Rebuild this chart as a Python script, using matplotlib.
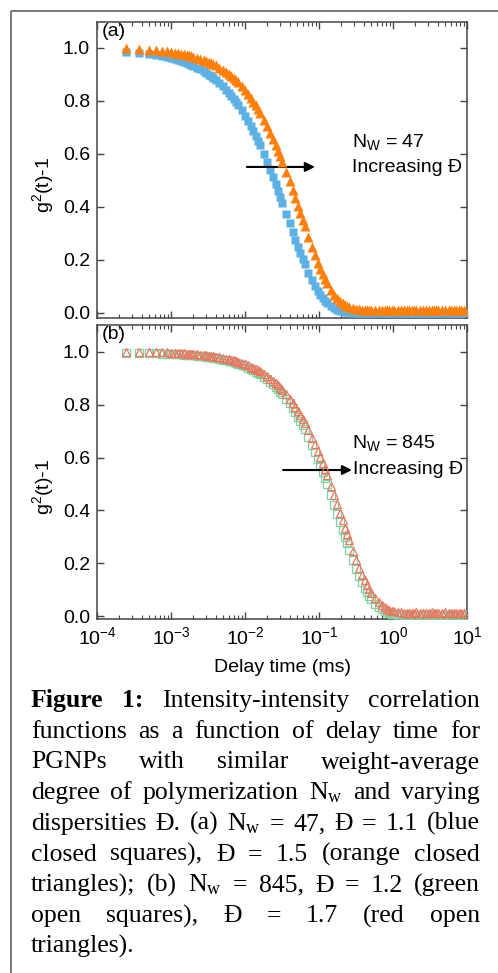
import matplotlib
matplotlib.use("Agg")
import matplotlib.pyplot as plt
from matplotlib.lines import Line2D
from matplotlib.ticker import LogLocator, NullFormatter, FixedLocator, FormatStrFormatter

plt.rcParams['font.family'] = ['Liberation Sans', 'DejaVu Sans']
plt.rcParams['mathtext.default'] = 'regular'

W, H = 498, 973

# delay time grid of the correlator (ms), 8 channels per octave
delay_ms = [2.5e-4, 3.75e-4, 5.0e-4, 6.25e-4, 7.5e-4, 8.75e-4,
            1.0e-3, 1.125e-3, 1.25e-3, 1.375e-3, 1.5e-3, 1.625e-3, 1.75e-3, 1.875e-3,
            2.0e-3, 2.25e-3, 2.5e-3, 2.75e-3, 3.0e-3, 3.25e-3, 3.5e-3, 3.75e-3,
            4.0e-3, 4.5e-3, 5.0e-3, 5.5e-3, 6.0e-3, 6.5e-3, 7.0e-3, 7.5e-3,
            0.008, 0.009, 0.010, 0.011, 0.012, 0.013, 0.014, 0.015,
            0.016, 0.018, 0.020, 0.022, 0.024, 0.026, 0.028, 0.030,
            0.032, 0.036, 0.040, 0.044, 0.048, 0.052, 0.056, 0.060,
            0.064, 0.072, 0.080, 0.088, 0.096, 0.104, 0.112, 0.120,
            0.128, 0.144, 0.160, 0.176, 0.192, 0.208, 0.224, 0.240,
            0.256, 0.288, 0.320, 0.352, 0.384, 0.416, 0.448, 0.480,
            0.512, 0.576, 0.640, 0.704, 0.768, 0.832, 0.896, 0.960,
            1.024, 1.152, 1.280, 1.408, 1.536, 1.664, 1.792, 1.920,
            2.048, 2.304, 2.560, 2.816, 3.072, 3.328, 3.584, 3.840,
            4.096, 4.608, 5.120, 5.632, 6.144, 6.656, 7.168, 7.680,
            8.192, 9.216]

# (a) Nw = 47
blue_d11 = [.984, .980, .977, .973, .969, .965,
            .961, .958, .954, .950, .947, .943, .940, .936,
            .933, .926, .919, .912, .906, .899, .893, .886,
            .880, .867, .855, .843, .831, .820, .808, .797,
            .786, .765, .744, .724, .705, .686, .667, .650,
            .633, .600, .569, .540, .512, .486, .461, .437,
            .416, .375, .338, .305, .276, .249, .226, .204,
            .185, .151, .124, .102, .084, .069, .057, .047,
            .038, .026, .018, .012, .008, .006, .004, .003,
            .002, .001, .001, .000, .000, .000, -.001, .000,
            .001, .000, .000, -.001, .000, .001, .000, .000,
            .000, .001, .000, .000, -.001, .000, .001, .000,
            .000, .000, .001, .000, .000, -.001, .000, .001,
            .000, .000, .001, .000, .000, .000, -.001, .000,
            .000, .001]
orange_d15 = [.998, .995, .993, .991, .989, .987,
              .984, .982, .980, .978, .976, .974, .972, .969,
              .967, .963, .959, .955, .950, .946, .942, .938,
              .934, .926, .917, .909, .901, .894, .886, .878,
              .870, .855, .840, .825, .811, .797, .783, .769,
              .756, .730, .705, .680, .657, .634, .612, .591,
              .571, .533, .497, .463, .432, .403, .376, .351,
              .328, .286, .249, .218, .190, .167, .146, .128,
              .113, .088, .069, .055, .044, .036, .030, .026,
              .022, .018, .015, .014, .013, .013, .012, .012,
              .013, .012, .011, .012, .013, .012, .011, .012,
              .012, .013, .012, .011, .012, .013, .012, .012,
              .011, .012, .013, .012, .012, .011, .013, .012,
              .012, .011, .012, .013, .012, .012, .011, .012,
              .013, .012]

# (b) Nw = 845
green_d12 = [.997, .996, .995, .995, .994, .993,
             .993, .992, .991, .991, .990, .989, .989, .988,
             .987, .986, .985, .983, .982, .981, .979, .978,
             .977, .974, .971, .969, .966, .964, .961, .958,
             .956, .951, .946, .941, .935, .930, .925, .920,
             .916, .906, .896, .886, .877, .868, .858, .849,
             .840, .822, .805, .787, .771, .754, .738, .722,
             .707, .677, .649, .621, .595, .570, .546, .523,
             .501, .460, .422, .387, .355, .326, .299, .275,
             .252, .213, .179, .151, .128, .108, .091, .077,
             .065, .047, .034, .025, .019, .014, .011, .009,
             .007, .005, .004, .003, .003, .002, .003, .003,
             .003, .002, .003, .003, .002, .003, .003, .002,
             .003, .003, .002, .003, .003, .002, .003, .003,
             .002, .003]
red_d17 = [1.001, 1.000, .999, .999, .998, .998,
           .997, .996, .996, .995, .995, .994, .993, .993,
           .992, .991, .990, .988, .987, .986, .985, .984,
           .982, .980, .978, .975, .973, .970, .968, .966,
           .963, .958, .954, .949, .944, .940, .935, .930,
           .926, .917, .908, .899, .890, .881, .873, .864,
           .856, .839, .823, .807, .791, .775, .760, .745,
           .731, .703, .676, .650, .625, .601, .578, .555,
           .534, .494, .457, .423, .391, .362, .335, .310,
           .287, .247, .212, .182, .157, .136, .117, .102,
           .089, .068, .052, .041, .033, .027, .023, .020,
           .018, .015, .014, .013, .012, .013, .011, .012,
           .014, .012, .011, .013, .012, .014, .012, .011,
           .013, .012, .014, .012, .013, .011, .012, .013,
           .012, .013]

y_ticks = [0.0, 0.2, 0.4, 0.6, 0.8, 1.0]

fig = plt.figure(figsize=(W / 100, H / 100), dpi=100)
fig.patch.set_facecolor('white')

# outer frame (left and top edges only are visible)
fc = '#555555'
fig.add_artist(Line2D([11 / W, 11 / W], [-0.01, 1 - 11 / H], color=fc, lw=1.1,
                      transform=fig.transFigure, solid_capstyle='butt'))
fig.add_artist(Line2D([11 / W, 1.01], [1 - 11 / H, 1 - 11 / H], color=fc, lw=1.1,
                      transform=fig.transFigure, solid_capstyle='butt'))


def px_axes(left, top, right, bottom):
    return fig.add_axes([left / W, 1 - bottom / H, (right - left) / W, (bottom - top) / H])


ax_a = px_axes(97, 22, 467, 318)
ax_b = px_axes(97, 325, 467, 619)

ax_a.plot(delay_ms, blue_d11, 's', ms=5.2, color='#5DB0E3', mec='none', zorder=3)
ax_a.plot(delay_ms, orange_d15, '^', ms=6.6, color='#FF7F0A', mec='none', zorder=4)

ax_b.plot(delay_ms, green_d12, 's', ms=5.4, mfc='none', mec='#7DD3A0', mew=0.9, zorder=3)
ax_b.plot(delay_ms, red_d17, '^', ms=6.4, mfc='none', mec='#F07560', mew=0.9, zorder=4)

sc = '#444444'
for ax in (ax_a, ax_b):
    ax.set_xscale('log')
    ax.set_xlim(1e-4, 1e1)
    ax.xaxis.set_major_locator(LogLocator(base=10, numticks=10))
    ax.xaxis.set_minor_locator(LogLocator(base=10, subs=range(2, 10), numticks=10))
    ax.xaxis.set_minor_formatter(NullFormatter())
    ax.yaxis.set_major_locator(FixedLocator(y_ticks))
    ax.yaxis.set_major_formatter(FormatStrFormatter('%.1f'))
    ax.tick_params(which='both', direction='in', top=True, right=True, color=sc,
                   labelsize=14, pad=5)
    ax.tick_params(which='major', length=5, width=1.0)
    ax.tick_params(which='minor', length=3, width=0.8)
    for s in ax.spines.values():
        s.set_color(sc)
        s.set_linewidth(1.1)
    ax.set_ylabel('g$^2$(t)-1', fontsize=14)
    ax.yaxis.set_label_coords(-0.112, 0.45)

ax_a.set_ylim(-0.019, 1.098)
ax_b.set_ylim(-0.011, 1.102)
ax_a.tick_params(labelbottom=False)

ax_b.set_xlabel('Delay time (ms)', fontsize=14)
ax_b.xaxis.set_label_coords(0.5, -0.135)

ax_a.text(0.012, 0.995, '(a)', transform=ax_a.transAxes, fontsize=14, va='top', ha='left')
ax_b.text(0.012, 0.995, '(b)', transform=ax_b.transAxes, fontsize=14, va='top', ha='left')

arrow = dict(arrowstyle='-|>', color='black', lw=1.5, mutation_scale=14, shrinkA=0, shrinkB=0)
ax_a.annotate('', xy=(0.088, 0.551), xytext=(0.0106, 0.551), arrowprops=arrow)
ax_b.annotate('', xy=(0.279, 0.553), xytext=(0.0327, 0.553), arrowprops=arrow)

ax_a.text(0.689, 0.595, 'N$_W$ = 47', transform=ax_a.transAxes, fontsize=14, va='center')
ax_a.text(0.689, 0.51, 'Increasing Đ', transform=ax_a.transAxes, fontsize=14, va='center')
ax_b.text(0.689, 0.599, 'N$_W$ = 845', transform=ax_b.transAxes, fontsize=14, va='center')
ax_b.text(0.692, 0.507, 'Increasing Đ', transform=ax_b.transAxes, fontsize=14, va='center')

# caption, justified by hand
caption = [
    "Figure 1: Intensity-intensity correlation",
    "functions as a function of delay time for",
    "PGNPs with similar weight-average",
    "degree of polymerization N$_w$ and varying",
    "dispersities Đ. (a) N$_w$ = 47, Đ = 1.1 (blue",
    "closed squares), Đ = 1.5 (orange closed",
    "triangles); (b) N$_w$ = 845, Đ = 1.2 (green",
    "open squares), Đ = 1.7 (red open",
    "triangles).",
]
cap_left, cap_right = 31, 480
base0, step = 707, 30.75
renderer = fig.canvas.get_renderer()
for i, line in enumerate(caption):
    words = line.split(' ')
    y = 1 - (base0 + i * step) / H
    texts = []
    for j, w in enumerate(words):
        bold = (i == 0 and j < 2)
        t = fig.text(0, y, w, fontsize=18.5, family=['Liberation Serif', 'DejaVu Serif'],
                     fontweight='bold' if bold else 'normal', va='baseline', ha='left')
        texts.append(t)
    widths = [t.get_window_extent(renderer).width for t in texts]
    if i == len(caption) - 1:
        sp = texts[0].get_window_extent(renderer).height * 0.25
    else:
        sp = (cap_right - cap_left - sum(widths)) / (len(words) - 1)
    x = cap_left
    for t, wd in zip(texts, widths):
        t.set_x(x / W)
        x += wd + sp

fig.savefig('out.png', dpi=100)
